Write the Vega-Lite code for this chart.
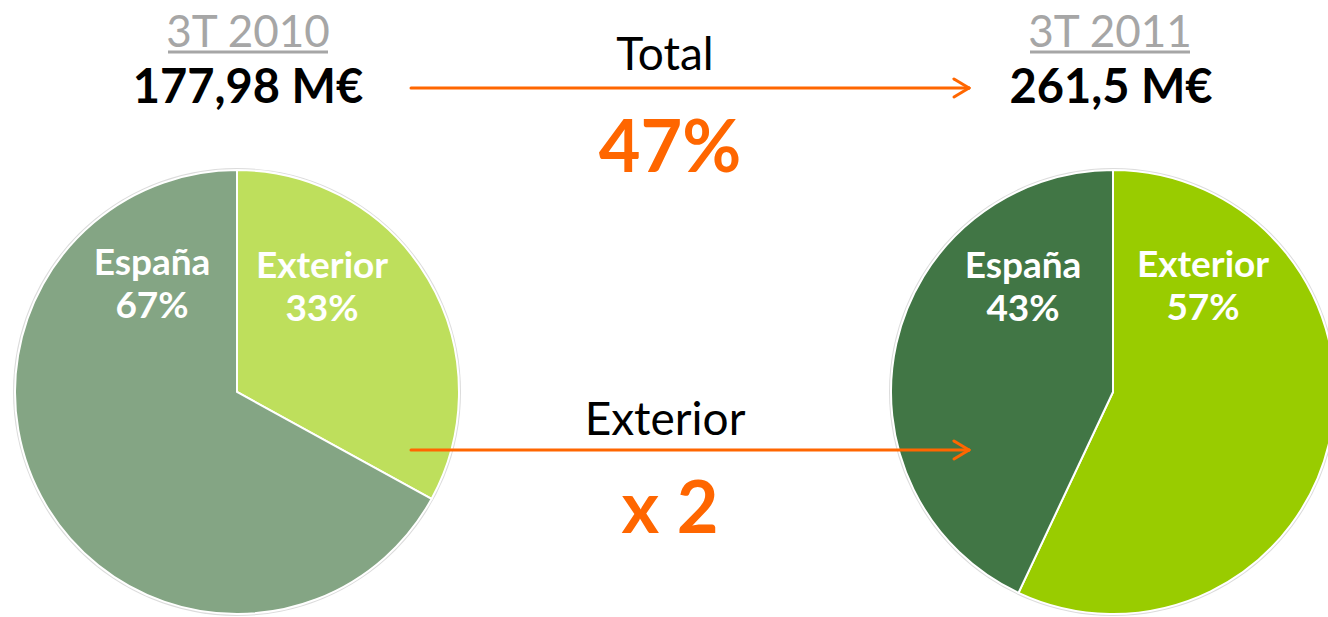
{
  "$schema": "https://vega.github.io/schema/vega-lite/v6.json",
  "width": 1328,
  "height": 617,
  "padding": 0,
  "autosize": {"type": "none"},
  "config": {"view": {"stroke": null}, "font": "Lato"},
  "datasets": {
    "pies": [
      {"periodo": "3T 2010", "zona": "Exterior", "pct": 33, "ord": 1, "cx": 237, "cy": 392, "serie": "2010 Exterior"},
      {"periodo": "3T 2010", "zona": "España", "pct": 67, "ord": 2, "cx": 237, "cy": 392, "serie": "2010 España"},
      {"periodo": "3T 2011", "zona": "Exterior", "pct": 57, "ord": 1, "cx": 1113, "cy": 392, "serie": "2011 Exterior"},
      {"periodo": "3T 2011", "zona": "España", "pct": 43, "ord": 2, "cx": 1113, "cy": 392, "serie": "2011 España"}
    ],
    "pielabels": [
      {"txt": "España\n67%", "x": 152, "y": 275},
      {"txt": "Exterior\n33%", "x": 322, "y": 278},
      {"txt": "España\n43%", "x": 1023, "y": 278},
      {"txt": "Exterior\n57%", "x": 1203, "y": 277}
    ],
    "periodos": [
      {"txt": "3T 2010", "x": 248, "y": 47, "x1": 168, "x2": 328, "uy": 52},
      {"txt": "3T 2011", "x": 1110, "y": 47, "x1": 1030, "x2": 1190, "uy": 52}
    ],
    "totales": [
      {"txt": "177,98 M€", "x": 248, "y": 103},
      {"txt": "261,5 M€", "x": 1111, "y": 103}
    ],
    "etiquetas": [
      {"txt": "Total", "x": 665, "y": 70},
      {"txt": "Exterior", "x": 665, "y": 435}
    ],
    "cambios": [
      {"txt": "47%", "x": 670, "y": 172},
      {"txt": "x 2", "x": 670, "y": 533}
    ],
    "flechas": [
      {"x": 411, "y": 88, "x2": 969, "y2": 88},
      {"x": 969, "y": 88, "x2": 954, "y2": 79},
      {"x": 969, "y": 88, "x2": 954, "y2": 97},
      {"x": 411, "y": 450, "x2": 969, "y2": 450},
      {"x": 969, "y": 450, "x2": 954, "y2": 441},
      {"x": 969, "y": 450, "x2": 954, "y2": 459}
    ]
  },
  "encoding": {
    "x": {"field": "x", "type": "quantitative", "scale": {"domain": [0, 1328]}, "axis": null},
    "y": {"field": "y", "type": "quantitative", "scale": {"domain": [0, 617], "reverse": true}, "axis": null}
  },
  "layer": [
    {
      "data": {"name": "pies"},
      "transform": [{"filter": "datum.ord == 1"}],
      "mark": {"type": "arc", "outerRadius": 224, "color": "#dcdcdc"},
      "encoding": {
        "x": {"field": "cx", "type": "quantitative", "scale": {"domain": [0, 1328]}, "axis": null},
        "y": {"field": "cy", "type": "quantitative", "scale": {"domain": [0, 617], "reverse": true}, "axis": null}
      }
    },
    {
      "data": {"name": "pies"},
      "transform": [
        {"stack": "pct", "groupby": ["periodo"], "sort": [{"field": "ord", "order": "ascending"}], "as": ["t0", "t1"]}
      ],
      "mark": {"type": "arc", "outerRadius": 222, "stroke": "white", "strokeWidth": 2},
      "encoding": {
        "x": {"field": "cx", "type": "quantitative", "scale": {"domain": [0, 1328]}, "axis": null},
        "y": {"field": "cy", "type": "quantitative", "scale": {"domain": [0, 617], "reverse": true}, "axis": null},
        "theta": {"field": "t0", "type": "quantitative", "scale": {"domain": [0, 100]}, "stack": null},
        "theta2": {"field": "t1"},
        "color": {
          "field": "serie", "type": "nominal", "legend": null,
          "scale": {"domain": ["2010 Exterior", "2010 España", "2011 Exterior", "2011 España"], "range": ["#BEDF5C", "#84A584", "#99CC00", "#417645"]}
        }
      }
    },
    {
      "data": {"name": "pielabels"},
      "mark": {"type": "text", "align": "center", "baseline": "alphabetic", "lineBreak": "\n", "lineHeight": 43, "fontSize": 37, "fontWeight": "bold", "color": "white"},
      "encoding": {"text": {"field": "txt"}}
    },
    {
      "data": {"name": "periodos"},
      "mark": {"type": "text", "align": "center", "baseline": "alphabetic", "fontSize": 44, "color": "#A6A6A6"},
      "encoding": {"text": {"field": "txt"}}
    },
    {
      "data": {"name": "periodos"},
      "mark": {"type": "rule", "color": "#A6A6A6", "strokeWidth": 3},
      "encoding": {
        "x": {"field": "x1", "type": "quantitative"},
        "x2": {"field": "x2"},
        "y": {"field": "uy", "type": "quantitative"}
      }
    },
    {
      "data": {"name": "totales"},
      "mark": {"type": "text", "align": "center", "baseline": "alphabetic", "fontSize": 47, "fontWeight": "bold", "color": "black"},
      "encoding": {"text": {"field": "txt"}}
    },
    {
      "data": {"name": "etiquetas"},
      "mark": {"type": "text", "align": "center", "baseline": "alphabetic", "fontSize": 46, "color": "black"},
      "encoding": {"text": {"field": "txt"}}
    },
    {
      "data": {"name": "cambios"},
      "mark": {"type": "text", "align": "center", "baseline": "alphabetic", "fontSize": 72, "fontWeight": "bold", "color": "#FF6600"},
      "encoding": {"text": {"field": "txt"}}
    },
    {
      "data": {"name": "flechas"},
      "mark": {"type": "rule", "color": "#FF6600", "strokeWidth": 3, "strokeCap": "round"},
      "encoding": {
        "x2": {"field": "x2"},
        "y2": {"field": "y2"}
      }
    }
  ]
}
